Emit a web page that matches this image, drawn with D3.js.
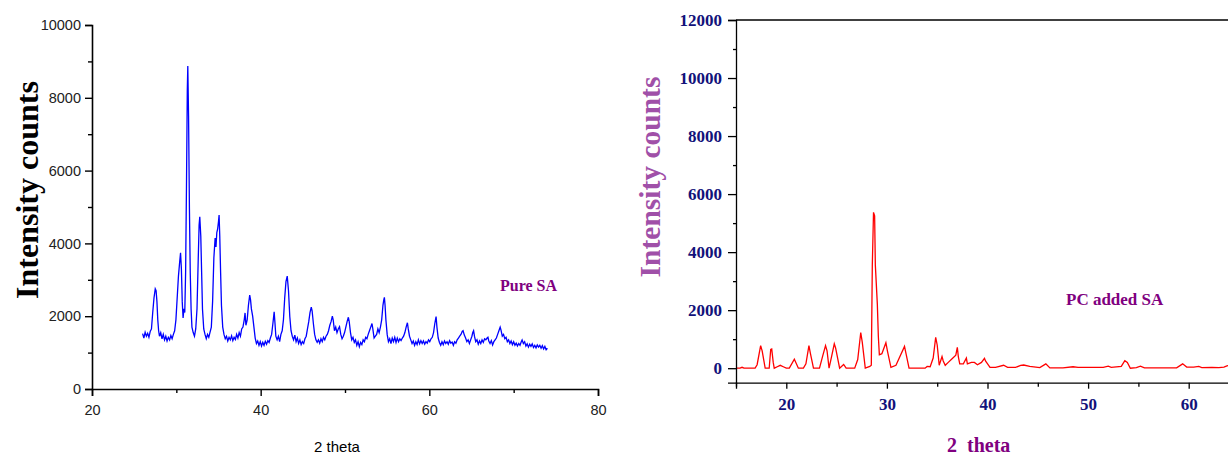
<!DOCTYPE html>
<html>
<head>
<meta charset="utf-8">
<script src="https://cdn.jsdelivr.net/npm/d3@7"></script>
<style>
  body { margin: 0; background: #fff; }
  svg { display: block; }
  .axis path, .axis line { stroke: #000; }
  .left-axis text { font-family: "Liberation Sans", Arial, sans-serif; font-size: 14.5px; fill: #222; }
  .right-axis text { font-family: "Liberation Serif", "Times New Roman", serif; font-size: 17px; font-weight: bold; fill: #12127a; }
</style>
</head>
<body>
<div id="chart"></div>
<script>
// Pure SA diffractogram: [2 theta, intensity counts]
var pureSA = [
  [26.0,1520],[26.15,1400],[26.3,1560],[26.45,1450],[26.6,1530],[26.75,1420],[26.9,1580],[27.05,1650],
  [27.2,2100],[27.35,2500],[27.5,2750],[27.6,2700],[27.7,2400],[27.8,1900],[27.9,1600],[28.0,1450],
  [28.15,1550],[28.3,1380],[28.45,1500],[28.6,1350],[28.75,1450],[28.9,1320],[29.05,1420],[29.2,1350],
  [29.35,1470],[29.5,1380],[29.65,1500],[29.8,1600],[29.95,1900],[30.1,2500],[30.25,3100],[30.4,3500],
  [30.5,3740],[30.6,3300],[30.7,2400],[30.8,1950],[30.9,2200],[31.0,2100],[31.1,3200],[31.2,5500],
  [31.3,8200],[31.36,8870],[31.45,7500],[31.55,5000],[31.65,3200],[31.75,2200],[31.85,1700],[32.0,1550],
  [32.15,1450],[32.3,1650],[32.45,2200],[32.6,3600],[32.7,4500],[32.78,4730],[32.9,4200],[33.0,3200],
  [33.1,2200],[33.25,1650],[33.4,1500],[33.55,1380],[33.7,1500],[33.85,1420],[34.0,1560],[34.15,1700],
  [34.3,2400],[34.45,3600],[34.6,4150],[34.7,3900],[34.8,4300],[34.9,4400],[35.0,4600],[35.07,4780],
  [35.15,4200],[35.25,3200],[35.35,2300],[35.5,1700],[35.65,1500],[35.8,1380],[35.95,1450],[36.1,1320],
  [36.25,1420],[36.4,1350],[36.55,1460],[36.7,1330],[36.85,1420],[37.0,1360],[37.15,1500],[37.3,1400],
  [37.45,1550],[37.6,1450],[37.75,1650],[37.9,1700],[38.05,1900],[38.15,2090],[38.25,1750],[38.4,1900],
  [38.55,2300],[38.7,2580],[38.8,2450],[38.9,2200],[39.05,2000],[39.2,1700],[39.35,1400],[39.5,1250],
  [39.65,1320],[39.8,1200],[39.95,1300],[40.1,1180],[40.25,1280],[40.4,1200],[40.55,1310],[40.7,1230],
  [40.85,1330],[41.0,1280],[41.15,1400],[41.3,1500],[41.45,1800],[41.6,2120],[41.7,1800],[41.8,1450],
  [41.95,1350],[42.1,1450],[42.25,1300],[42.4,1500],[42.55,1600],[42.7,1900],[42.85,2500],[43.0,2950],
  [43.15,3100],[43.3,2700],[43.45,2000],[43.6,1600],[43.75,1450],[43.9,1350],[44.05,1480],[44.2,1300],
  [44.35,1400],[44.5,1250],[44.65,1350],[44.8,1220],[44.95,1300],[45.1,1250],[45.25,1380],[45.4,1450],
  [45.55,1650],[45.7,1850],[45.85,2100],[46.0,2250],[46.1,2150],[46.25,1800],[46.4,1500],[46.55,1350],
  [46.7,1280],[46.85,1350],[47.0,1260],[47.15,1380],[47.3,1300],[47.45,1420],[47.6,1350],[47.75,1450],
  [47.9,1500],[48.05,1600],[48.2,1750],[48.35,1850],[48.5,2000],[48.6,1900],[48.75,1600],[48.9,1700],
  [49.05,1550],[49.2,1650],[49.35,1710],[49.5,1500],[49.65,1380],[49.8,1450],[49.95,1550],[50.1,1700],
  [50.25,1850],[50.4,1970],[50.5,1850],[50.65,1550],[50.8,1350],[50.95,1420],[51.1,1280],[51.25,1350],
  [51.4,1200],[51.55,1300],[51.7,1160],[51.85,1280],[52.0,1220],[52.15,1350],[52.3,1300],[52.45,1420],
  [52.6,1380],[52.75,1500],[52.9,1600],[53.05,1700],[53.2,1800],[53.3,1650],[53.45,1400],[53.6,1450],
  [53.75,1500],[53.9,1650],[54.05,1550],[54.2,1700],[54.35,1900],[54.5,2300],[54.6,2450],[54.67,2520],
  [54.75,2300],[54.85,1900],[55.0,1500],[55.15,1300],[55.3,1380],[55.45,1250],[55.6,1400],[55.75,1300],
  [55.9,1420],[56.05,1280],[56.2,1400],[56.35,1300],[56.5,1380],[56.65,1330],[56.8,1400],[56.95,1450],
  [57.1,1550],[57.25,1700],[57.4,1820],[57.5,1650],[57.65,1450],[57.8,1350],[57.95,1250],[58.1,1320],
  [58.25,1200],[58.4,1300],[58.55,1220],[58.7,1350],[58.85,1240],[59.0,1330],[59.15,1250],[59.3,1320],
  [59.45,1230],[59.6,1300],[59.75,1260],[59.9,1350],[60.05,1300],[60.2,1380],[60.35,1420],[60.5,1550],
  [60.65,1800],[60.8,1990],[60.9,1700],[61.05,1400],[61.2,1280],[61.35,1200],[61.5,1300],[61.65,1220],
  [61.8,1320],[61.95,1250],[62.1,1300],[62.25,1230],[62.4,1330],[62.55,1260],[62.7,1290],[62.85,1200],
  [63.0,1300],[63.15,1260],[63.3,1350],[63.45,1400],[63.6,1450],[63.75,1500],[63.9,1580],[64.0,1600],
  [64.15,1480],[64.3,1400],[64.45,1300],[64.6,1350],[64.75,1250],[64.9,1350],[65.05,1450],[65.15,1550],
  [65.25,1600],[65.35,1450],[65.5,1300],[65.65,1350],[65.8,1230],[65.95,1320],[66.1,1250],[66.25,1350],
  [66.4,1280],[66.55,1380],[66.7,1350],[66.85,1400],[66.95,1420],[67.05,1320],[67.2,1250],[67.35,1330],
  [67.5,1210],[67.65,1300],[67.8,1350],[67.95,1400],[68.1,1500],[68.25,1600],[68.4,1700],[68.5,1620],
  [68.65,1450],[68.8,1500],[68.95,1380],[69.1,1420],[69.25,1300],[69.4,1350],[69.55,1250],[69.7,1320],
  [69.85,1220],[70.0,1300],[70.15,1200],[70.3,1260],[70.45,1180],[70.6,1250],[70.75,1200],[70.9,1300],
  [71.0,1350],[71.15,1250],[71.3,1300],[71.45,1180],[71.6,1240],[71.75,1150],[71.9,1230],[72.05,1170],
  [72.2,1240],[72.35,1140],[72.5,1200],[72.65,1130],[72.8,1210],[72.95,1150],[73.1,1200],[73.25,1120],
  [73.4,1190],[73.55,1100],[73.7,1170],[73.85,1080],[74.0,1120]
];

// PC added SA diffractogram: [2 theta, intensity counts]
var pcSA = [
  [15,0],[15.4,0],[15.6,30],[15.8,0],[16.9,0],[17.1,120],[17.45,780],[17.6,600],[17.9,0],[18.3,0],
  [18.45,650],[18.55,665],[18.7,200],[18.8,0],[19.1,50],[19.4,100],[19.7,50],[20.0,0],[20.3,0],[20.8,310],
  [21.2,0],[21.7,0],[21.95,150],[22.25,780],[22.4,500],[22.7,0],[23.3,0],[23.6,400],[23.9,780],[24.05,600],
  [24.25,0],[24.5,400],[24.77,840],[24.9,700],[25.3,0],[25.7,130],[25.95,0],[26.8,0],[27.1,300],[27.4,1230],
  [27.55,900],[27.85,0],[28.3,60],[28.45,100],[28.55,3560],[28.67,5370],[28.78,5250],[28.85,3560],[29.05,2200],
  [29.15,1090],[29.25,460],[29.5,500],[29.9,880],[30.05,600],[30.4,30],[30.9,100],[31.75,750],[31.9,500],
  [32.2,0],[33.8,0],[34.0,60],[34.3,50],[34.6,350],[34.85,1060],[35.0,800],[35.2,100],[35.48,400],[35.6,250],
  [35.8,100],[36.1,200],[36.4,300],[36.85,450],[37.0,720],[37.1,400],[37.24,150],[37.6,150],[37.9,350],
  [38.0,150],[38.4,200],[38.7,200],[39.0,120],[39.4,200],[39.7,340],[39.8,250],[40.25,30],[40.8,30],
  [41.6,100],[42.0,30],[42.8,30],[43.3,100],[43.6,110],[44.2,60],[45.2,20],[45.8,150],[46.2,10],[47.5,10],
  [48.5,50],[49.0,30],[51.5,30],[52.0,70],[52.3,30],[53.3,60],[53.65,260],[53.9,200],[54.2,0],[54.8,20],
  [55.2,70],[55.6,10],[58.8,10],[59.4,150],[59.8,40],[60.5,40],[61.0,60],[61.3,20],[62.3,30],[63.0,20],
  [63.5,40],[63.8,80],[64.2,110],[65,60]
];

var leftXTicks = [20, 40, 60, 80],
    leftXMinor = [30, 50, 70],
    leftYTicks = [0, 2000, 4000, 6000, 8000, 10000],
    leftYMinor = [1000, 3000, 5000, 7000, 9000];
var rightXTicks = [20, 30, 40, 50, 60],
    rightXMinor = [15, 25, 35, 45, 55, 65],
    rightYTicks = [0, 2000, 4000, 6000, 8000, 10000, 12000],
    rightYMinor = [1000, 3000, 5000, 7000, 9000, 11000];

var svg = d3.select("#chart").append("svg")
    .attr("width", 1228)
    .attr("height", 456);

// ---------- left panel: Pure SA ----------
var lx = d3.scaleLinear().domain([20, 80]).range([92, 598]),
    ly = d3.scaleLinear().domain([0, 10000]).range([389, 25]);

var left = svg.append("g");

left.append("path")
    .datum(pureSA)
    .attr("fill", "none")
    .attr("stroke", "#0000ff")
    .attr("stroke-width", 1.3)
    .attr("d", d3.line().x(function(d) { return lx(d[0]); }).y(function(d) { return ly(d[1]); }));

left.append("g")
    .attr("class", "axis left-axis")
    .attr("transform", "translate(0,389)")
    .call(d3.axisBottom(lx).tickValues(leftXTicks).tickSize(7).tickPadding(9).tickFormat(d3.format("d")))
    .call(function(g) { g.select(".domain").attr("stroke-width", 1.6); g.selectAll("line").attr("stroke-width", 1.4); });

left.append("g")
    .attr("class", "axis")
    .attr("transform", "translate(0,389)")
    .call(d3.axisBottom(lx).tickValues(leftXMinor).tickSize(4).tickFormat(""))
    .call(function(g) { g.select(".domain").remove(); g.selectAll("line").attr("stroke-width", 1.4); });

left.append("g")
    .attr("class", "axis left-axis")
    .attr("transform", "translate(92,0)")
    .call(d3.axisLeft(ly).tickValues(leftYTicks).tickSize(7).tickPadding(4).tickFormat(d3.format("d")))
    .call(function(g) { g.select(".domain").attr("stroke-width", 1.6); g.selectAll("line").attr("stroke-width", 1.4); });

left.append("g")
    .attr("class", "axis")
    .attr("transform", "translate(92,0)")
    .call(d3.axisLeft(ly).tickValues(leftYMinor).tickSize(4).tickFormat(""))
    .call(function(g) { g.select(".domain").remove(); g.selectAll("line").attr("stroke-width", 1.4); });

left.append("text")
    .attr("transform", "translate(38,190) rotate(-90)")
    .attr("text-anchor", "middle")
    .style("font-family", "'Liberation Serif', 'Times New Roman', serif")
    .style("font-weight", "bold")
    .style("font-size", "32px")
    .text("Intensity counts");

left.append("text")
    .attr("x", 337)
    .attr("y", 452)
    .attr("text-anchor", "middle")
    .style("font-family", "'Liberation Sans', Arial, sans-serif")
    .style("font-size", "15px")
    .text("2 theta");

left.append("text")
    .attr("x", 500)
    .attr("y", 291)
    .style("font-family", "'Liberation Serif', 'Times New Roman', serif")
    .style("font-weight", "bold")
    .style("font-size", "16px")
    .style("fill", "#800080")
    .text("Pure SA");

// ---------- right panel: PC added SA ----------
var rx = d3.scaleLinear().domain([15, 65]).range([736, 1239]),
    ry = d3.scaleLinear().domain([-500, 12000]).range([382.7, 20]);

var right = svg.append("g");

// top frame line
right.append("line")
    .attr("x1", 736).attr("x2", 1239)
    .attr("y1", 20).attr("y2", 20)
    .attr("stroke", "#000").attr("stroke-width", 1.3);

right.append("path")
    .datum(pcSA)
    .attr("fill", "none")
    .attr("stroke", "#ff0000")
    .attr("stroke-width", 1.3)
    .attr("d", d3.line().x(function(d) { return rx(d[0]); }).y(function(d) { return ry(d[1]); }));

right.append("g")
    .attr("class", "axis right-axis")
    .attr("transform", "translate(0,382.7)")
    .call(d3.axisBottom(rx).tickValues(rightXTicks).tickSize(6).tickPadding(9).tickFormat(d3.format("d")))
    .call(function(g) { g.select(".domain").attr("stroke-width", 1.3); g.selectAll("line").attr("stroke-width", 1.3); });

right.append("g")
    .attr("class", "axis")
    .attr("transform", "translate(0,382.7)")
    .call(d3.axisBottom(rx).tickValues(rightXMinor).tickSize(4).tickFormat(""))
    .call(function(g) { g.select(".domain").remove(); g.selectAll("line").attr("stroke-width", 1.3); });

right.append("g")
    .attr("class", "axis right-axis")
    .attr("transform", "translate(736,0)")
    .call(d3.axisLeft(ry).tickValues(rightYTicks).tickSize(8).tickPadding(6).tickFormat(d3.format("d")))
    .call(function(g) { g.select(".domain").attr("stroke-width", 1.3); g.selectAll("line").attr("stroke-width", 1.3); });

right.append("g")
    .attr("class", "axis")
    .attr("transform", "translate(736,0)")
    .call(d3.axisLeft(ry).tickValues(rightYMinor).tickSize(3).tickFormat(""))
    .call(function(g) { g.select(".domain").remove(); g.selectAll("line").attr("stroke-width", 1.3); });

right.append("text")
    .attr("transform", "translate(660,177) rotate(-90)")
    .attr("text-anchor", "middle")
    .style("font-family", "'Liberation Serif', 'Times New Roman', serif")
    .style("font-weight", "bold")
    .style("font-size", "29.5px")
    .style("fill", "#a050a8")
    .text("Intensity counts");

right.append("text")
    .attr("x", 947)
    .attr("y", 452)
    .attr("xml:space", "preserve")
    .style("white-space", "pre")
    .style("font-family", "'Liberation Serif', 'Times New Roman', serif")
    .style("font-weight", "bold")
    .style("font-size", "20px")
    .style("fill", "#800080")
    .text("2  theta");

right.append("text")
    .attr("x", 1066)
    .attr("y", 305)
    .style("font-family", "'Liberation Serif', 'Times New Roman', serif")
    .style("font-weight", "bold")
    .style("font-size", "17px")
    .style("fill", "#800080")
    .text("PC added SA");
</script>
</body>
</html>
